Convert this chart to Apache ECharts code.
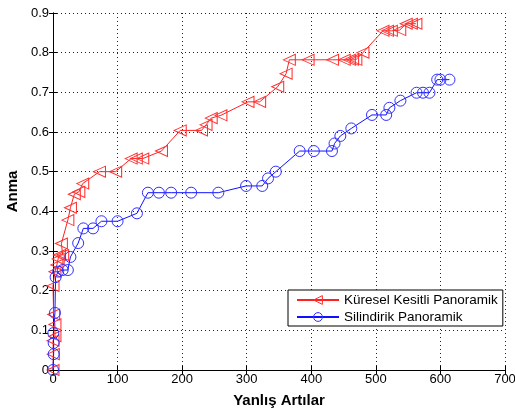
<!DOCTYPE html>
<html><head><meta charset="utf-8">
<script src="https://cdn.jsdelivr.net/npm/echarts@6/dist/echarts.min.js"></script>
<style>html,body{margin:0;padding:0;background:#fff}#c{width:515px;height:410px}</style>
</head><body><div id="c"></div>
<script>
const seriesNames = ['Küresel Kesitli Panoramik', 'Silindirik Panoramik'];
const xTicks = [0,100,200,300,400,500,600,700];
const yTicks = [0,0.1,0.2,0.3,0.4,0.5,0.6,0.7,0.8,0.9];
const redX = [0,0.5,0,3,3,1,0,3,6,8,10,15,13,23,27,33,40,46,72,97,121,129,139,168,197,230,237,245,260,302,320,348,361,366,395,433,451,459,464,469,480,511,518,524,537,547,555,562];
const redY = [0,0.04,0.074,0.085,0.115,0.14,0.212,0.248,0.265,0.28,0.29,0.29,0.319,0.378,0.409,0.443,0.449,0.47,0.5,0.5,0.533,0.533,0.533,0.552,0.604,0.604,0.618,0.635,0.642,0.676,0.676,0.714,0.747,0.782,0.782,0.782,0.782,0.782,0.782,0.782,0.8,0.855,0.855,0.855,0.857,0.873,0.873,0.873];
const blueX = [0,1,1,0.5,3,4,8,15,23,27,39,47,62,75,100,130,147,164,183,214,256,299,324,333,345,382,404,432,436,445,462,494,516,521,538,563,573,583,595,600,614];
const blueY = [0,0.04,0.068,0.093,0.144,0.234,0.248,0.252,0.252,0.285,0.32,0.357,0.357,0.375,0.375,0.395,0.447,0.447,0.447,0.447,0.447,0.464,0.464,0.483,0.5,0.552,0.552,0.552,0.571,0.59,0.609,0.643,0.643,0.661,0.679,0.699,0.699,0.699,0.732,0.732,0.732];

const zip = (a,b) => a.map((v,i)=>[v,b[i]]);
const chart = echarts.init(document.getElementById('c'));
const font = 'Liberation Sans, Arial, sans-serif';
const grid = {left:53, right:10, top:13, bottom:40, containLabel:false, outerBoundsMode:'none'};
const splitStyle = {show:true, lineStyle:{color:'#222', type:[1,3], width:1}};
const baseAxisLine = {show:true, lineStyle:{color:'#000', width:1}};
const redStroke = '#ff3030', blueStroke = '#3030ff';
chart.setOption({
  backgroundColor:'#fff',
  animation:false,
  grid: grid,
  legend: {
    left: 288, top: 290,
    orient:'vertical',
    borderColor:'#000', borderWidth:1, backgroundColor:'#fff', borderRadius:0,
    padding:[3,5,2,8], itemGap:3, itemWidth:42, itemHeight:11,
    textStyle:{fontFamily:font, fontSize:13.5, color:'#000'},
    data: [
      {name: seriesNames[0], itemStyle:{color:'rgba(255,255,255,0)', borderColor:redStroke, borderWidth:1}},
      {name: seriesNames[1], itemStyle:{color:'rgba(255,255,255,0)', borderColor:blueStroke, borderWidth:1}}
    ]
  },
  xAxis: [{
    type:'value', min:0, max:700, interval:100,
    name:'Yanlış Artılar', nameLocation:'middle', nameGap:23,
    nameTextStyle:{fontFamily:font, fontSize:15, fontWeight:'bold', color:'#000'},
    axisLine: baseAxisLine,
    axisTick:{show:true, inside:true, length:4, lineStyle:{color:'#000'}},
    axisLabel:{fontFamily:font, fontSize:13, color:'#000', margin:3, formatter:v=>xTicks.includes(v)?String(v):''},
    splitLine: splitStyle
  },{
    type:'value', min:0, max:700, interval:100, position:'top',
    axisLine: baseAxisLine,
    axisTick:{show:true, inside:true, length:4, lineStyle:{color:'#000'}},
    axisLabel:{show:false}, splitLine:{show:false}
  }],
  yAxis: [{
    type:'value', min:0, max:0.9, interval:0.1,
    name:'Anma', nameLocation:'middle', nameGap:29, nameRotate:90,
    nameTextStyle:{fontFamily:font, fontSize:15, fontWeight:'bold', color:'#000'},
    axisLine: baseAxisLine,
    axisTick:{show:true, inside:true, length:4, lineStyle:{color:'#000'}},
    axisLabel:{fontFamily:font, fontSize:13, color:'#000', margin:4,
      formatter:v=>{const r=Math.round(v*10)/10; return yTicks.includes(r)?String(r):'';}},
    splitLine: splitStyle
  },{
    type:'value', min:0, max:0.9, interval:0.1, position:'right',
    axisLine: baseAxisLine,
    axisTick:{show:true, inside:true, length:4, lineStyle:{color:'#000'}},
    axisLabel:{show:false}, splitLine:{show:false}
  }],
  series: [{
    name: seriesNames[0], type:'line', data: zip(redX, redY),
    symbol:'triangle', symbolSize:[11,12], symbolRotate:90,
    lineStyle:{color:'#ff2020', width:1},
    itemStyle:{color:'rgba(255,255,255,0)', borderColor:redStroke, borderWidth:1},
    emphasis:{disabled:true}
  },{
    name: seriesNames[1], type:'line', data: zip(blueX, blueY),
    symbol:'circle', symbolSize:11,
    lineStyle:{color:'#1010ff', width:1},
    itemStyle:{color:'rgba(255,255,255,0)', borderColor:blueStroke, borderWidth:1},
    emphasis:{disabled:true}
  }]
});
</script></body></html>
